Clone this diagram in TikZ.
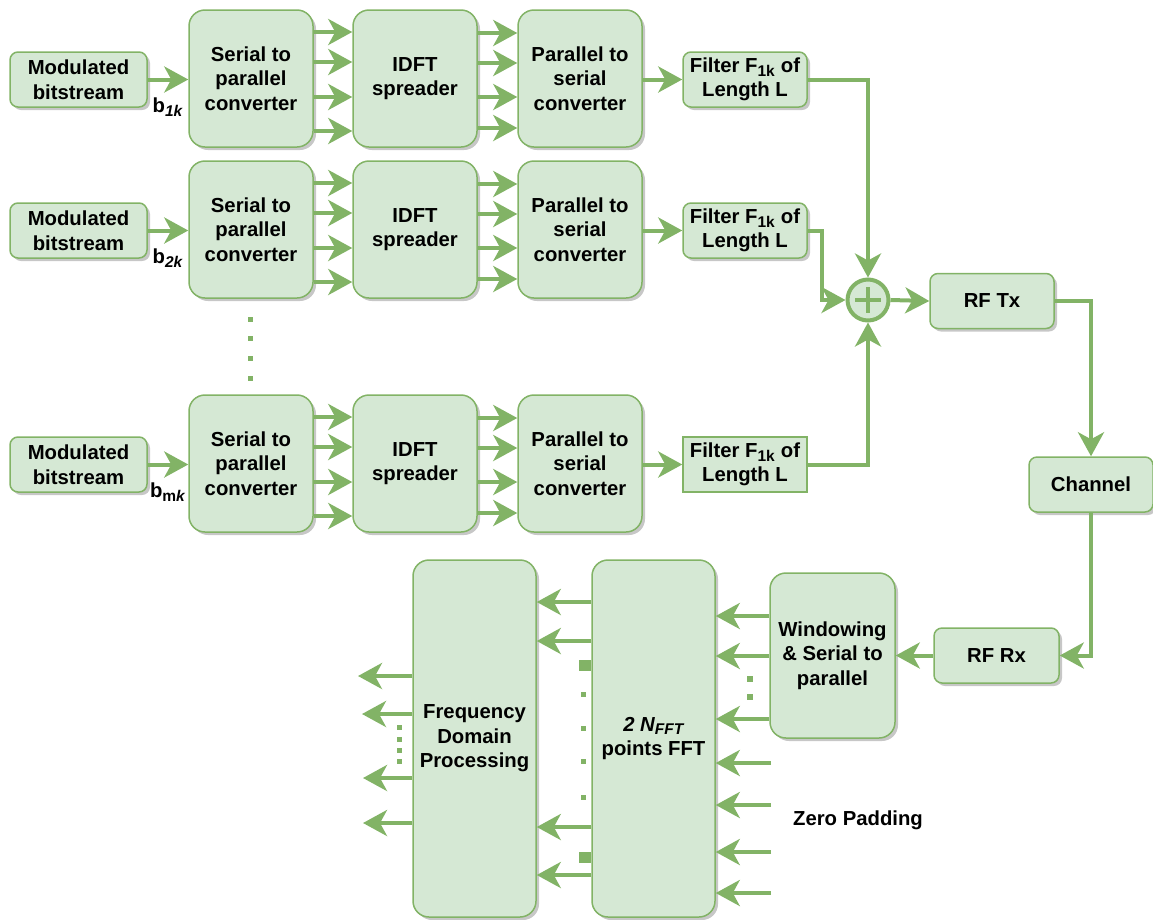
\documentclass[tikz,border=0pt]{standalone}
\usepackage{fontspec}
\setmainfont{Liberation Sans}
\usetikzlibrary{arrows.meta,shadows,calc}
\definecolor{gfill}{HTML}{D5E8D4}
\definecolor{gline}{HTML}{82B366}
% subscript set a little larger than the default
\newcommand\lowtext[1]{\textsubscript{\fontsize{15.5}{15.5}\selectfont #1}}

\begin{document}
\begin{tikzpicture}[x=1pt,y=-1pt,
  lbl/.style={font=\fontsize{20.3}{24.5}\selectfont\bfseries, align=center, inner sep=0pt},
  blk/.style={lbl, draw=gline, fill=gfill, line width=1.5pt,
    drop shadow={shadow xshift=3pt,shadow yshift=-3pt,fill=black,opacity=0.22}},
  sbox/.style={blk, rounded corners=8pt, minimum height=55pt},
  tall/.style={blk, rounded corners=16pt, minimum width=124pt, minimum height=137pt},
  colbox/.style={blk, rounded corners=16pt, minimum width=123pt, minimum height=357pt},
  flow/.style={line width=4pt, draw=gline, -{Stealth[length=24pt,width=26pt,inset=7pt]}},
  dotsq/.style={fill=gline}]

\useasboundingbox (0,0) rectangle (1153,919);

% ---------------- three transmitter branches ----------------
\foreach \r/\dy/\sub in {1/0/{\textit{1k}}, 2/151/{\textit{2k}}, 3/385/{m\textit{k}}}{
  \node[sbox, minimum width=137pt] (mod\r) at (78.5,79.5+\dy) {Modulated\\bitstream};
  \node[tall] (sp\r)   at (251,78.5+\dy) {Serial to\\parallel\\converter};
  \node[tall] (idft\r) at (415,78.5+\dy) {IDFT\\spreader};
  \node[tall] (ps\r)   at (580,78.5+\dy) {Parallel to\\serial\\converter};
  \draw[flow] (mod\r.east) -- (sp\r.west |- mod\r.east);
  \node[lbl] (b\r) at (168,107+\dy) {b\lowtext{\sub}};
  \foreach \y in {32,62,97,131}
    \draw[flow] (sp\r.east |- 0,\y+\dy) -- (idft\r.west |- 0,\y+\dy);
  \foreach \y in {33,63,97,128}
    \draw[flow] (idft\r.east |- 0,\y+\dy) -- (ps\r.west |- 0,\y+\dy);
}

% filters
\node[sbox, minimum width=124pt] (f1) at (745,79.5) {Filter F\lowtext{1k} of\\Length L};
\node[sbox, minimum width=124pt] (f2) at (745,230.5) {Filter F\lowtext{1k} of\\Length L};
\node[lbl, draw=gline, fill=gfill, line width=1.5pt, minimum width=124pt, minimum height=55pt]
  (f3) at (745,464.5) {Filter F\lowtext{1k} of\\Length L};
\foreach \r in {1,2,3}
  \draw[flow] (ps\r.east |- f\r.west) -- (f\r.west);

% branch dots
\foreach \y in {319,338,358,378}
  \fill[dotsq] (247.5,\y-2.5) rectangle ++(5,5);

% ---------------- summation ----------------
\node[circle, draw=gline, fill=gfill, line width=4pt, minimum size=41pt, inner sep=0pt] (sum) at (868,300) {};
\draw[gline, line width=4pt] ($(sum.center)+(-13,0)$) -- ($(sum.center)+(13,0)$);
\draw[gline, line width=4pt] ($(sum.center)+(0,-13)$) -- ($(sum.center)+(0,13)$);

\coordinate (bend2) at (822,230.5);
\draw[flow] (f1.east) -| (sum.north);
\draw[flow] (f2.east) -- (bend2) |- (sum.west);
\draw[flow] (f3.east) -| (sum.south);

% ---------------- RF chain ----------------
\node[sbox, minimum width=124pt] (rftx) at (992,301) {RF Tx};
\node[sbox, minimum width=124pt] (chan) at (1091,484.5) {Channel};
\node[sbox, minimum width=125pt] (rfrx) at (996.5,655.5) {RF Rx};
\node[blk, rounded corners=16pt, minimum width=125pt, minimum height=165pt] (win) at (832.5,655.5)
  {Windowing\\\& Serial to\\parallel};

\draw[flow] (sum.east) -- (rftx.west);
\draw[flow] (rftx.east) -| (chan.north);
\draw[flow] (chan.south) |- (rfrx.east);
\draw[flow] (rfrx.west) -- (win.east);

% ---------------- receiver ----------------
\node[colbox] (fft) at (653.5,738.5) {\textit{2 N\lowtext{FFT}}\\points FFT};
\node[colbox] (fdp) at (474.5,738.5) {Frequency\\Domain\\Processing};

\foreach \y in {616,656,719}
  \draw[flow] (win.west |- 0,\y) -- (fft.east |- 0,\y);
\foreach \y in {679,697}
  \fill[dotsq] (746.5,\y-3) rectangle ++(6,6);

% zero padding inputs
\foreach \i/\y in {1/763,2/805,3/852,4/893}{
  \coordinate (zp\i) at (771,\y);
  \draw[flow] (zp\i) -- (fft.east |- zp\i);
}
\node[lbl] (zplabel) at (858,820) {Zero Padding};

% FFT outputs
\foreach \y in {602,641,827,875}
  \draw[flow] (fft.west |- 0,\y) -- (fdp.east |- 0,\y);
\fill[dotsq] (579,660) rectangle (591,671);
\fill[dotsq] (579,852) rectangle (591,863);
\foreach \y in {694,728,761,797}
  \fill[dotsq] (581,\y-2.5) rectangle ++(5,5);

% processed outputs
\foreach \i/\y/\x in {1/676/358,2/714/362,3/778/363,4/823/363}{
  \coordinate (out\i) at (\x,\y);
  \draw[flow] (fdp.west |- out\i) -- (out\i);
}
\foreach \y in {727,739,750,761}
  \fill[dotsq] (396.5,\y-2.5) rectangle ++(5,5);

\end{tikzpicture}
\end{document}
